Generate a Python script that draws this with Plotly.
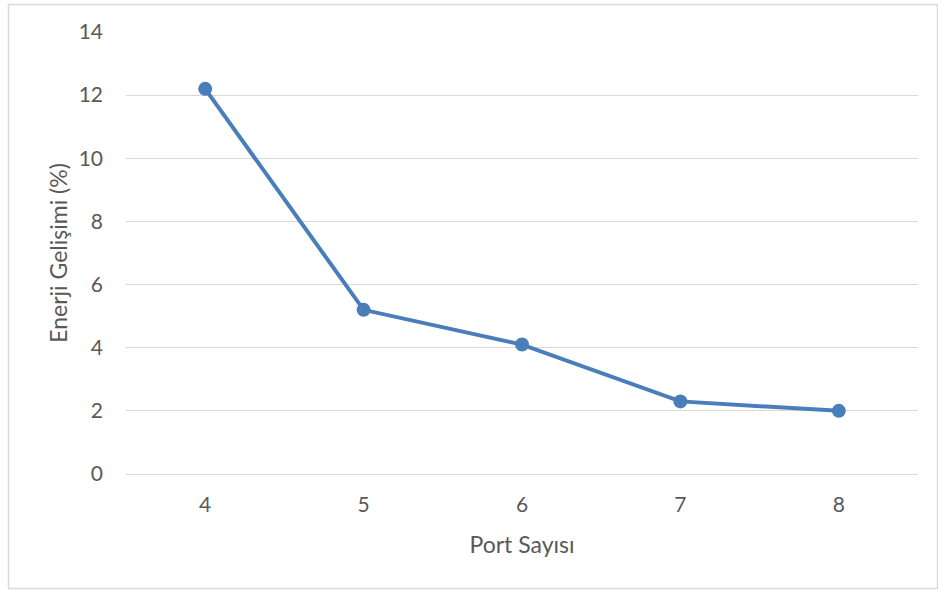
import plotly.graph_objects as go

# Port count vs. energy improvement
port_counts = ["4", "5", "6", "7", "8"]
energy_gain = [12.2, 5.2, 4.1, 2.3, 2.0]
y_ticks = [0, 2, 4, 6, 8, 10, 12, 14]

W, H = 938, 590
L, R, T, B = 126, 20, 32, 116
pw, ph = W - L - R, H - T - B

fig = go.Figure()
fig.add_trace(go.Scatter(
    x=port_counts,
    y=energy_gain,
    mode="lines+markers",
    line=dict(color="#4a7ebb", width=4),
    marker=dict(color="#4a7ebb", size=14),
    showlegend=False,
))

font_family = "Lato, 'Open Sans', Arial, sans-serif"
text_color = "#595959"

fig.update_layout(
    width=W, height=H,
    margin=dict(l=L, r=R, t=T, b=B),
    paper_bgcolor="white",
    plot_bgcolor="white",
    font=dict(family=font_family, color=text_color, size=21),
    xaxis=dict(
        type="category",
        range=[-0.5, 4.5],
        showgrid=False,
        showline=False,
        zeroline=False,
        ticks="",
        tickfont=dict(size=21, color=text_color),
        ticklabelstandoff=16,
        title=dict(text="Port Sayısı", font=dict(size=23, color=text_color), standoff=21),
    ),
    yaxis=dict(
        range=[0, 14],
        tickvals=y_ticks,
        showgrid=True,
        gridcolor="#d9d9d9",
        gridwidth=1,
        zeroline=True,
        zerolinecolor="#d9d9d9",
        zerolinewidth=1,
        showline=False,
        ticks="",
        tickfont=dict(size=21, color=text_color),
        ticklabelstandoff=22,
        title=dict(text="Enerji Gelişimi (%)", font=dict(size=23, color=text_color), standoff=4),
    ),
)

# Chart frame around the whole figure
fig.add_shape(
    type="rect", xref="paper", yref="paper",
    x0=(8.5 - L) / pw, x1=(937.5 - L) / pw,
    y0=(H - B - 588.5) / ph, y1=(H - B - 4.5) / ph,
    line=dict(color="#d9d9d9", width=1.5),
    fillcolor="rgba(0,0,0,0)",
    layer="below",
)

fig.write_html("out.html")
